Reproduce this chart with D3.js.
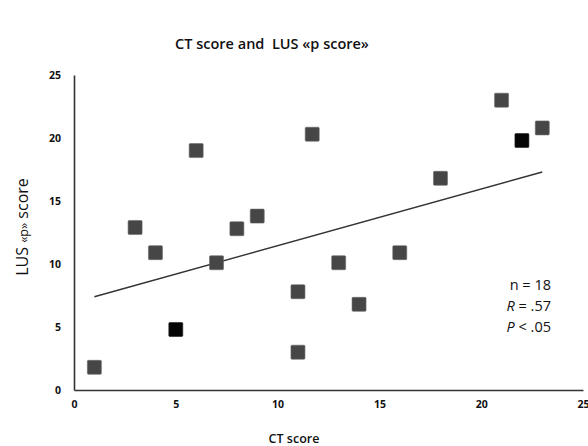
<!DOCTYPE html>
<html>
<head>
<meta charset="utf-8">
<script src="https://cdn.jsdelivr.net/npm/d3@7"></script>
<style>
  body { margin: 0; background: #fff; }
  svg { display: block; }
  .tick text { font-family: "Open Sans", sans-serif; font-weight: 700; font-size: 10.5px; fill: #111; }
</style>
</head>
<body>
<svg id="chart" width="588" height="446"></svg>
<script>
'use strict';

// CT score vs LUS "p" score
var ctScore = [1, 3, 4, 5, 6, 7, 8, 9, 11, 11, 11.7, 13, 14, 16, 18, 21, 22, 23];
var lusScore = [1.8, 12.9, 10.9, 4.8, 19, 10.1, 12.8, 13.8, 7.8, 3, 20.3, 10.1, 6.8, 10.9, 16.8, 23, 19.8, 20.8];
// the two black squares
var highlighted = [false, false, false, true, false, false, false, false, false, false, false, false, false, false, false, false, true, false];

// fitted line as drawn in the figure
var trendX = [1, 23];
var trendY = [7.4, 17.3];

var xTicks = [0, 5, 10, 15, 20, 25];
var yTicks = [0, 5, 10, 15, 20, 25];
var statsLines = ['n = 18', 'R = .57', 'P < .05'];

var svg = d3.select('#chart');

var x = d3.scaleLinear().domain([0, 25]).range([74, 583]);
var y = d3.scaleLinear().domain([0, 25]).range([390, 75]);

var font = '"Open Sans", sans-serif';

// title
svg.append('text')
	.attr('x', 272)
	.attr('y', 49)
	.attr('text-anchor', 'middle')
	.style('font-family', font)
	.style('font-weight', 600)
	.style('font-size', '14.5px')
	.style('fill', '#111')
	.text('CT score and\u00a0 LUS \u00abp score\u00bb');

// axes
var xAxis = svg.append('g')
	.attr('transform', 'translate(0,' + y(0) + ')')
	.call(d3.axisBottom(x).tickValues(xTicks).tickSize(0).tickPadding(11));
xAxis.select('.domain').attr('stroke', '#333').attr('stroke-width', 1.6);

var yAxis = svg.append('g')
	.attr('transform', 'translate(' + x(0) + ',0)')
	.call(d3.axisLeft(y).tickValues(yTicks).tickSize(0).tickPadding(13));
yAxis.select('.domain').attr('stroke', '#333').attr('stroke-width', 1.6);

// axis titles
svg.append('text')
	.attr('x', 294)
	.attr('y', 443)
	.attr('text-anchor', 'middle')
	.style('font-family', font)
	.style('font-weight', 600)
	.style('font-size', '12.5px')
	.style('fill', '#111')
	.text('CT score');

var yTitle = svg.append('text')
	.attr('transform', 'translate(28,' + 227 + ') rotate(-90)')
	.attr('text-anchor', 'middle')
	.style('font-family', font)
	.style('font-size', '16px')
	.style('fill', '#111');
yTitle.append('tspan').text('LUS ');
yTitle.append('tspan').style('font-size', '12.5px').text('\u00abp\u00bb');
yTitle.append('tspan').text(' score');

// trend line
svg.append('line')
	.attr('x1', x(trendX[0]))
	.attr('y1', y(trendY[0]))
	.attr('x2', x(trendX[1]))
	.attr('y2', y(trendY[1]))
	.attr('stroke', '#333')
	.attr('stroke-width', 1.4);

// points
var size = 14;
svg.selectAll('rect.pt')
	.data(ctScore)
	.enter()
	.append('rect')
	.attr('class', 'pt')
	.attr('x', function(d) {
		return x(d) - size / 2;
	})
	.attr('y', function(d, i) {
		return y(lusScore[i]) - size / 2;
	})
	.attr('width', size)
	.attr('height', size)
	.attr('rx', 1)
	.attr('fill', function(d, i) {
		return highlighted[i] ? '#050505' : '#464646';
	})
	.attr('stroke', function(d, i) {
		return highlighted[i] ? '#222' : '#6a6a6a';
	})
	.attr('stroke-width', 0.6);

// stats box
var stats = svg.append('text')
	.attr('text-anchor', 'end')
	.style('font-family', font)
	.style('font-size', '14.5px')
	.style('fill', '#111');
stats.selectAll('tspan')
	.data(statsLines)
	.enter()
	.append('tspan')
	.attr('x', 551)
	.attr('y', function(d, i) {
		return 290 + i * 21;
	})
	.each(function(d, i) {
		var t = d3.select(this);
		if (i === 0) {
			t.text(d);
			return;
		}
		t.append('tspan').style('font-style', 'italic').text(d.charAt(0));
		t.append('tspan').text(d.slice(1));
	});
</script>
</body>
</html>
